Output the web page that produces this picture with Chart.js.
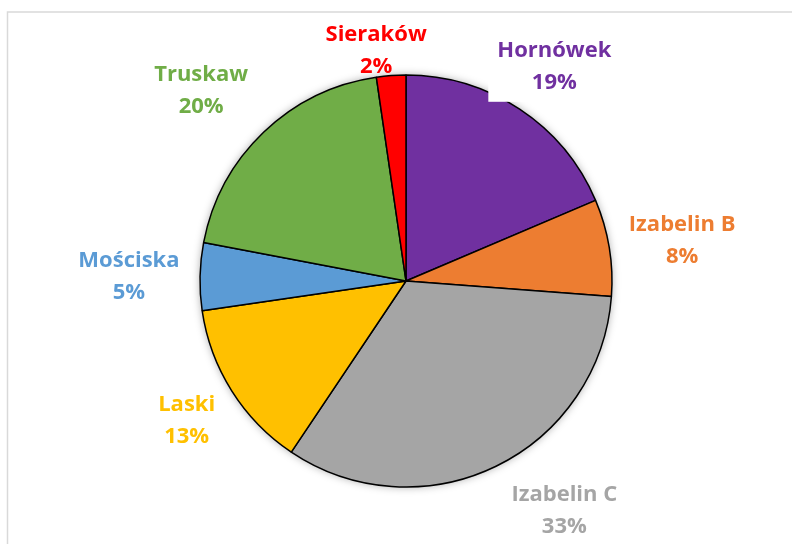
<!DOCTYPE html>
<html>
<head>
<meta charset="utf-8">
<script src="https://cdn.jsdelivr.net/npm/chart.js@4/dist/chart.umd.min.js"></script>
<style>
html, body { margin: 0; padding: 0; background: #fff; overflow: hidden; }
#wrap { width: 792px; height: 544px; }
</style>
</head>
<body>
<div id="wrap"><canvas id="pieChart" width="792" height="544"></canvas></div>
<script>
var labels = ['Hornówek', 'Izabelin B', 'Izabelin C', 'Laski', 'Mościska', 'Truskaw', 'Sieraków'];
var shares = [18.6, 7.6, 33.2, 13.3, 5.3, 19.7, 2.3];
var colors = ['#7030A0', '#ED7D31', '#A5A5A5', '#FFC000', '#5B9BD5', '#70AD47', '#FF0000'];

// nudges (px) applied to each label after the default outside placement
var labelShift = [[4, 3], [18, 1.5], [44, -6.5], [2, -1], [-15.5, 0.5], [-24, -2], [-11, 30]];
// only the Hornówek label has a visible opaque box over the pie
var labelBoxed = [true, false, false, false, false, false, false];

var labelFont = 'bold 22px "Open Sans", "Liberation Sans", Arial, sans-serif';
var lineGap = 32;

// white background + light gray chart frame
var framePlugin = {
    id: 'frame',
    beforeDraw: function(chart) {
        var c = chart.ctx;
        c.save();
        c.fillStyle = '#fff';
        c.fillRect(0, 0, chart.width, chart.height);
        c.strokeStyle = '#d9d9d9';
        c.lineWidth = 1.5;
        c.strokeRect(7.5, 12, 900, 700);
        c.restore();
    }
};

// soft shadow behind the whole pie
var shadowPlugin = {
    id: 'pieShadow',
    beforeDatasetsDraw: function(chart) {
        var arc = chart.getDatasetMeta(0).data[0];
        if (!arc) return;
        var c = chart.ctx;
        c.save();
        c.shadowColor = 'rgba(0, 0, 0, 0.35)';
        c.shadowBlur = 8;
        c.fillStyle = '#fff';
        c.beginPath();
        c.arc(arc.x, arc.y, arc.outerRadius, 0, Math.PI * 2);
        c.fill();
        c.restore();
    }
};

// category name + percent outside each slice
var labelPlugin = {
    id: 'sliceLabels',
    afterDatasetsDraw: function(chart) {
        var c = chart.ctx;
        var meta = chart.getDatasetMeta(0);
        var data = chart.data.datasets[0].data;
        var total = data.reduce(function(a, b) { return a + b; }, 0);
        c.save();
        c.font = labelFont;
        c.textAlign = 'center';
        c.textBaseline = 'middle';
        meta.data.forEach(function(arc, i) {
            var mid = (arc.startAngle + arc.endAngle) / 2;
            var r = arc.outerRadius * 1.27;
            var cx = arc.x + Math.cos(mid) * r + labelShift[i][0];
            var cy = arc.y + Math.sin(mid) * r + labelShift[i][1];
            var line1 = chart.data.labels[i];
            var line2 = Math.round(data[i] / total * 100) + '%';
            var tw = Math.max(c.measureText(line1).width, c.measureText(line2).width);
            if (labelBoxed[i]) {
                c.fillStyle = '#fff';
                c.fillRect(cx - tw / 2 - 9, cy - lineGap / 2 - 18, tw + 18, lineGap + 38);
            }
            c.fillStyle = colors[i];
            c.fillText(line1, cx, cy - lineGap / 2 + 1);
            c.fillText(line2, cx, cy + lineGap / 2 + 1);
        });
        c.restore();
    }
};

var ctx = document.getElementById('pieChart').getContext('2d');
var pieChart = new Chart(ctx, {
    type: 'pie',
    data: {
        labels: labels,
        datasets: [{
            data: shares,
            backgroundColor: colors,
            borderColor: '#000',
            borderWidth: 1.5
        }]
    },
    options: {
        responsive: false,
        animation: false,
        layout: {
            padding: { left: 199.25, right: 179.25, top: 74.25, bottom: 56.25 }
        },
        plugins: {
            legend: { display: false },
            tooltip: { enabled: false }
        }
    },
    plugins: [framePlugin, shadowPlugin, labelPlugin]
});
</script>
</body>
</html>
